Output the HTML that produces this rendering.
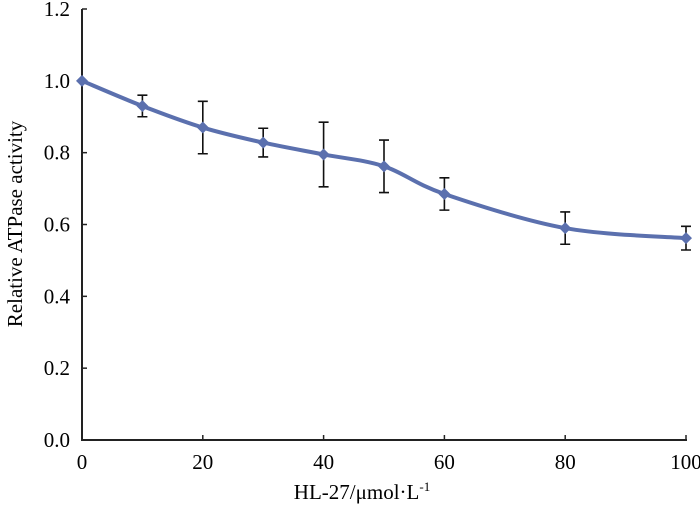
<!DOCTYPE html>
<html><head><meta charset="utf-8"><style>
body{margin:0;background:#fff}
svg{display:block;font-family:"Liberation Serif",serif}
</style></head><body>
<svg width="700" height="511" viewBox="0 0 700 511">
<g id="axes"></g><g id="plot"></g>
<text x="362" y="499" font-size="21" text-anchor="middle">HL-27/μmol·L<tspan dy="-8" font-size="13">-1</tspan></text>
<text transform="translate(22,224) rotate(-90)" font-size="21" text-anchor="middle">Relative ATPase activity</text>
</svg>
<script>
const xValues=[0,10,20,30,40,50,60,80,100];
const yValues=[1.0,0.93,0.87,0.828,0.795,0.762,0.685,0.59,0.562];
const errValues=[0,0.03,0.073,0.04,0.09,0.073,0.045,0.045,0.033];
const xTicks=[0,20,40,60,80,100];
const yTicks=[0.0,0.2,0.4,0.6,0.8,1.0,1.2];
const NS="http://www.w3.org/2000/svg";
const X0=82,X1=686,Y0=440,Y1=9;
const sx=v=>X0+(v-0)/100*(X1-X0);
const sy=v=>Y0-(v/1.2)*(Y0-Y1);
function mk(t,a,p){const e=document.createElementNS(NS,t);for(const k in a)e.setAttribute(k,a[k]);p.appendChild(e);return e;}
const ax=document.getElementById('axes'),pl=document.getElementById('plot');
let e=mk('line',{x1:X0,y1:Y1,x2:X0,y2:Y0,stroke:'#222','stroke-width':2},ax);

e=mk('line',{x1:X0-1,y1:Y0,x2:X1+1,y2:Y0,stroke:'#222','stroke-width':2},ax);

xTicks.forEach(v=>{
 e=mk('line',{x1:sx(v),y1:Y0,x2:sx(v),y2:Y0-5,stroke:'#222','stroke-width':1.5},ax);
 
 e=mk('text',{x:sx(v),y:Y0+29,'font-size':21,'text-anchor':'middle'},ax);e.textContent=v;
 
});
yTicks.forEach(v=>{
 e=mk('line',{x1:X0,y1:sy(v),x2:X0+5,y2:sy(v),stroke:'#222','stroke-width':1.5},ax);
 
 e=mk('text',{x:X0-12,y:sy(v)+7,'font-size':21,'text-anchor':'end'},ax);e.textContent=v.toFixed(1);
 
});
xValues.forEach((x,i)=>{
 if(!errValues[i])return;
 const cx=sx(x),t=sy(yValues[i]+errValues[i]),b=sy(yValues[i]-errValues[i]);
 e=mk('path',{d:`M${cx},${t}V${b}M${cx-5},${t}H${cx+5}M${cx-5},${b}H${cx+5}`,stroke:'#111','stroke-width':1.6,fill:'none'},pl);
 
});
const P=xValues.map((x,i)=>[sx(x),sy(yValues[i])]);
let d=`M${P[0][0]},${P[0][1]}`;
for(let i=0;i<P.length-1;i++){
 const p0=P[Math.max(i-1,0)],p1=P[i],p2=P[i+1],p3=P[Math.min(i+2,P.length-1)];
 d+=`C${p1[0]+(p2[0]-p0[0])/6},${p1[1]+(p2[1]-p0[1])/6} ${p2[0]-(p3[0]-p1[0])/6},${p2[1]-(p3[1]-p1[1])/6} ${p2[0]},${p2[1]}`;
}
e=mk('path',{d,stroke:'#5b70ae','stroke-width':4,fill:'none'},pl);

P.forEach(p=>{
 e=mk('path',{d:`M${p[0]},${p[1]-6}L${p[0]+6},${p[1]}L${p[0]},${p[1]+6}L${p[0]-6},${p[1]}Z`,fill:'#5b70ae'},pl);
 
});
</script>
</body></html>
